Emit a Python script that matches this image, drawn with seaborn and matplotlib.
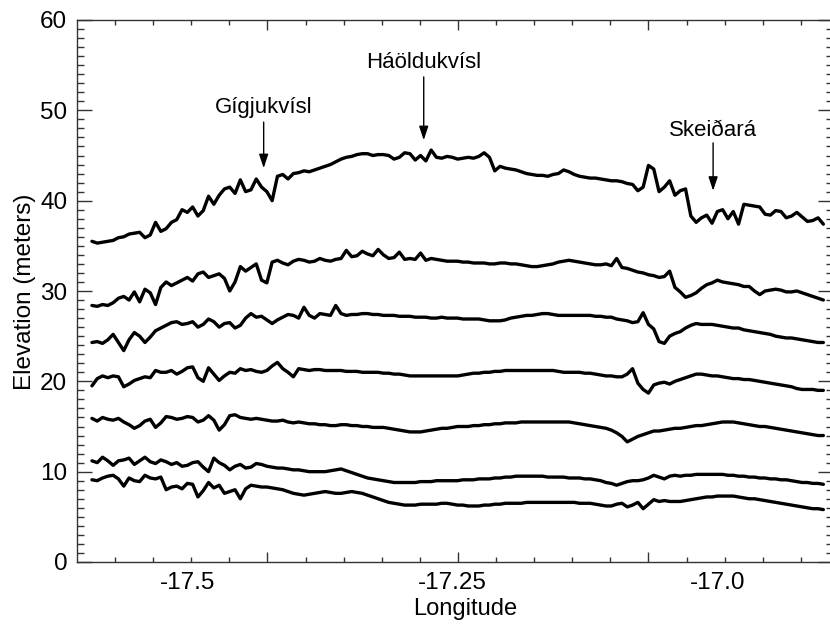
import matplotlib
matplotlib.use("Agg")
import matplotlib.pyplot as plt
from matplotlib.ticker import FixedLocator
import numpy as np
import seaborn as sns

# ── data: seven elevation profiles ───────────────────────────────────────────
LON = [-17.590, -17.585, -17.580, -17.575, -17.570, -17.565, -17.560, -17.555, -17.550, -17.545,
       -17.540, -17.535, -17.530, -17.525, -17.520, -17.515, -17.510, -17.505, -17.500, -17.495,
       -17.490, -17.485, -17.480, -17.475, -17.470, -17.465, -17.460, -17.455, -17.450, -17.445,
       -17.440, -17.435, -17.430, -17.425, -17.420, -17.415, -17.410, -17.405, -17.400, -17.395,
       -17.390, -17.385, -17.380, -17.375, -17.370, -17.365, -17.360, -17.355, -17.350, -17.345,
       -17.340, -17.335, -17.330, -17.325, -17.320, -17.315, -17.310, -17.305, -17.300, -17.295,
       -17.290, -17.285, -17.280, -17.275, -17.270, -17.265, -17.260, -17.255, -17.250, -17.245,
       -17.240, -17.235, -17.230, -17.225, -17.220, -17.215, -17.210, -17.205, -17.200, -17.195,
       -17.190, -17.185, -17.180, -17.175, -17.170, -17.165, -17.160, -17.155, -17.150, -17.145,
       -17.140, -17.135, -17.130, -17.125, -17.120, -17.115, -17.110, -17.105, -17.100, -17.095,
       -17.090, -17.085, -17.080, -17.075, -17.070, -17.065, -17.060, -17.055, -17.050, -17.045,
       -17.040, -17.035, -17.030, -17.025, -17.020, -17.015, -17.010, -17.005, -17.000, -16.995,
       -16.990, -16.985, -16.980, -16.975, -16.970, -16.965, -16.960, -16.955, -16.950, -16.945,
       -16.940, -16.935, -16.930, -16.925, -16.920, -16.915, -16.910, -16.905, -16.900]

PROFILE_1 = [35.5, 35.3, 35.4, 35.5, 35.6, 35.9, 36.0, 36.3, 36.4, 36.5,
             35.9, 36.2, 37.6, 36.6, 36.9, 37.6, 37.9, 39.0, 38.7, 39.3,
             38.3, 38.9, 40.5, 39.6, 40.6, 41.3, 41.5, 40.8, 42.3, 41.0,
             41.2, 42.4, 41.5, 41.0, 40.0, 42.7, 42.9, 42.4, 43.0, 43.1,
             43.3, 43.2, 43.4, 43.6, 43.8, 44.0, 44.3, 44.6, 44.8, 44.9,
             45.1, 45.2, 45.2, 45.0, 45.1, 45.1, 45.0, 44.6, 44.8, 45.3,
             45.2, 44.5, 45.0, 44.4, 45.6, 44.8, 44.7, 44.9, 44.8, 44.6,
             44.7, 44.8, 44.7, 44.9, 45.3, 44.8, 43.3, 43.8, 43.6, 43.5,
             43.4, 43.2, 43.0, 42.9, 42.8, 42.8, 42.7, 42.9, 43.0, 43.4,
             43.2, 42.9, 42.7, 42.6, 42.5, 42.5, 42.4, 42.3, 42.2, 42.2,
             42.1, 41.9, 41.8, 41.1, 41.5, 43.9, 43.5, 41.0, 41.5, 42.2,
             40.6, 41.1, 41.3, 38.3, 37.6, 38.1, 38.4, 37.5, 38.8, 39.0,
             38.0, 38.8, 37.4, 39.6, 39.5, 39.4, 39.3, 38.5, 38.4, 38.9,
             38.8, 38.1, 38.3, 38.7, 38.2, 37.7, 37.8, 38.1, 37.4]
PROFILE_2 = [28.4, 28.3, 28.5, 28.4, 28.7, 29.2, 29.4, 29.0, 29.9, 28.8,
             30.2, 29.8, 28.5, 30.4, 31.0, 30.6, 30.9, 31.2, 31.5, 31.1,
             31.9, 32.1, 31.5, 31.7, 31.9, 31.4, 30.0, 31.0, 32.7, 32.2,
             32.6, 33.0, 31.2, 30.9, 33.2, 33.4, 33.1, 32.9, 33.3, 33.5,
             33.4, 33.2, 33.3, 33.6, 33.4, 33.3, 33.5, 33.6, 34.5, 33.8,
             33.9, 34.4, 34.1, 33.9, 34.6, 34.0, 33.6, 33.7, 34.3, 33.5,
             33.6, 33.5, 34.2, 33.4, 33.6, 33.5, 33.4, 33.3, 33.3, 33.3,
             33.2, 33.2, 33.1, 33.1, 33.1, 33.0, 33.0, 33.1, 33.1, 33.0,
             33.0, 32.9, 32.8, 32.7, 32.7, 32.8, 32.9, 33.0, 33.2, 33.3,
             33.4, 33.3, 33.2, 33.1, 33.0, 32.9, 32.9, 33.0, 32.8, 33.6,
             32.6, 32.5, 32.3, 32.1, 32.0, 31.8, 31.7, 31.5, 31.6, 32.2,
             30.4, 29.9, 29.3, 29.5, 29.8, 30.3, 30.7, 30.9, 31.2, 31.0,
             30.9, 30.8, 30.7, 30.5, 30.5, 30.0, 29.6, 30.0, 30.1, 30.2,
             30.1, 29.9, 29.9, 30.0, 29.8, 29.6, 29.4, 29.2, 29.0]
PROFILE_3 = [24.3, 24.4, 24.2, 24.6, 25.2, 24.3, 23.4, 24.6, 25.4, 25.0,
             24.3, 24.9, 25.6, 25.9, 26.2, 26.5, 26.6, 26.3, 26.4, 26.6,
             26.0, 26.3, 26.9, 26.6, 26.0, 26.4, 26.5, 25.9, 26.2, 27.0,
             27.5, 27.1, 27.2, 26.8, 26.4, 26.8, 27.1, 27.4, 27.3, 27.0,
             28.2, 27.3, 27.0, 27.5, 27.4, 27.3, 28.4, 27.5, 27.3, 27.4,
             27.4, 27.5, 27.5, 27.4, 27.4, 27.3, 27.3, 27.3, 27.2, 27.2,
             27.2, 27.1, 27.1, 27.1, 27.0, 27.0, 27.1, 27.0, 27.0, 27.0,
             26.9, 26.9, 26.9, 26.9, 26.8, 26.7, 26.7, 26.7, 26.8, 27.0,
             27.1, 27.2, 27.3, 27.3, 27.4, 27.5, 27.5, 27.4, 27.3, 27.3,
             27.3, 27.3, 27.3, 27.3, 27.3, 27.2, 27.2, 27.1, 27.1, 26.9,
             26.8, 26.7, 26.5, 26.6, 27.6, 26.3, 25.8, 24.4, 24.2, 25.0,
             25.3, 25.5, 25.9, 26.2, 26.4, 26.3, 26.3, 26.3, 26.2, 26.1,
             26.0, 25.9, 25.9, 25.7, 25.6, 25.5, 25.4, 25.3, 25.2, 25.0,
             24.9, 24.8, 24.8, 24.7, 24.6, 24.5, 24.4, 24.3, 24.3]
PROFILE_4 = [19.5, 20.3, 20.6, 20.4, 20.6, 20.5, 19.4, 19.7, 20.1, 20.3,
             20.5, 20.4, 21.2, 21.0, 21.0, 21.2, 20.8, 21.1, 21.5, 21.6,
             20.4, 20.0, 21.5, 20.8, 20.1, 20.6, 21.0, 20.9, 21.4, 21.2,
             21.3, 21.1, 21.0, 21.2, 21.7, 22.1, 21.4, 21.0, 20.5, 21.4,
             21.3, 21.2, 21.3, 21.3, 21.2, 21.2, 21.2, 21.2, 21.1, 21.1,
             21.1, 21.0, 21.0, 21.0, 21.0, 20.9, 20.9, 20.8, 20.8, 20.7,
             20.6, 20.6, 20.6, 20.6, 20.6, 20.6, 20.6, 20.6, 20.6, 20.6,
             20.7, 20.8, 20.9, 20.9, 21.0, 21.0, 21.1, 21.1, 21.2, 21.2,
             21.2, 21.2, 21.2, 21.2, 21.2, 21.2, 21.2, 21.2, 21.1, 21.0,
             21.0, 21.0, 21.0, 20.9, 20.9, 20.8, 20.7, 20.6, 20.6, 20.5,
             20.5, 20.8, 21.4, 19.8, 19.1, 18.7, 19.6, 19.8, 19.9, 19.7,
             20.0, 20.2, 20.4, 20.6, 20.8, 20.8, 20.7, 20.6, 20.6, 20.5,
             20.4, 20.3, 20.3, 20.2, 20.2, 20.1, 20.0, 19.9, 19.8, 19.7,
             19.6, 19.5, 19.4, 19.2, 19.1, 19.1, 19.1, 19.0, 19.0]
PROFILE_5 = [15.9, 15.6, 16.0, 15.8, 15.7, 15.9, 15.5, 15.2, 14.8, 15.1,
             15.6, 15.8, 14.9, 15.4, 16.1, 16.0, 15.8, 15.9, 16.1, 16.0,
             15.5, 15.7, 16.2, 15.7, 14.6, 15.2, 16.2, 16.3, 16.0, 15.9,
             15.8, 15.9, 15.8, 15.7, 15.6, 15.6, 15.7, 15.5, 15.4, 15.5,
             15.4, 15.3, 15.3, 15.2, 15.2, 15.1, 15.1, 15.2, 15.2, 15.1,
             15.1, 15.0, 15.0, 14.9, 14.9, 14.9, 14.8, 14.7, 14.6, 14.5,
             14.4, 14.4, 14.4, 14.5, 14.6, 14.7, 14.8, 14.8, 14.9, 15.0,
             15.0, 15.0, 15.1, 15.1, 15.2, 15.2, 15.3, 15.3, 15.4, 15.4,
             15.4, 15.5, 15.5, 15.5, 15.5, 15.5, 15.5, 15.5, 15.5, 15.5,
             15.5, 15.4, 15.3, 15.2, 15.1, 15.0, 14.9, 14.8, 14.6, 14.3,
             13.9, 13.3, 13.6, 13.9, 14.1, 14.3, 14.5, 14.5, 14.6, 14.7,
             14.8, 14.8, 14.9, 15.0, 15.1, 15.1, 15.2, 15.3, 15.4, 15.5,
             15.5, 15.5, 15.4, 15.3, 15.2, 15.1, 15.0, 15.0, 14.9, 14.8,
             14.7, 14.6, 14.5, 14.4, 14.3, 14.2, 14.1, 14.0, 14.0]
PROFILE_6 = [11.2, 11.0, 11.6, 11.2, 10.7, 11.2, 11.3, 11.5, 10.8, 11.2,
             11.6, 11.1, 10.9, 11.3, 11.1, 10.8, 11.0, 10.6, 10.7, 11.0,
             11.1, 10.5, 10.0, 11.5, 11.0, 10.7, 10.2, 10.6, 10.8, 10.4,
             10.5, 10.9, 10.8, 10.6, 10.5, 10.4, 10.4, 10.3, 10.2, 10.2,
             10.1, 10.0, 10.0, 10.0, 10.0, 10.1, 10.2, 10.3, 10.1, 9.9,
             9.7, 9.5, 9.3, 9.2, 9.1, 9.0, 8.9, 8.8, 8.8, 8.8,
             8.8, 8.8, 8.9, 8.9, 8.9, 9.0, 9.0, 9.0, 9.0, 9.0,
             9.1, 9.1, 9.1, 9.2, 9.2, 9.2, 9.3, 9.3, 9.4, 9.4,
             9.5, 9.5, 9.5, 9.5, 9.5, 9.5, 9.4, 9.4, 9.4, 9.4,
             9.3, 9.3, 9.3, 9.2, 9.2, 9.1, 9.0, 8.8, 8.7, 8.5,
             8.7, 8.9, 9.0, 9.0, 9.1, 9.3, 9.6, 9.4, 9.2, 9.5,
             9.6, 9.5, 9.6, 9.6, 9.7, 9.7, 9.7, 9.7, 9.7, 9.7,
             9.6, 9.6, 9.5, 9.5, 9.4, 9.4, 9.3, 9.3, 9.2, 9.2,
             9.1, 9.1, 9.0, 8.9, 8.8, 8.8, 8.7, 8.7, 8.6]
PROFILE_7 = [9.1, 9.0, 9.3, 9.5, 9.6, 9.2, 8.4, 9.3, 9.0, 8.9,
             9.6, 9.3, 9.2, 9.4, 8.0, 8.3, 8.4, 8.1, 8.7, 8.6,
             7.2, 7.9, 8.8, 8.2, 8.5, 7.6, 7.8, 8.0, 7.0, 8.1,
             8.5, 8.4, 8.3, 8.3, 8.2, 8.1, 8.0, 7.8, 7.6, 7.5,
             7.4, 7.5, 7.6, 7.7, 7.8, 7.7, 7.6, 7.6, 7.7, 7.8,
             7.7, 7.6, 7.4, 7.2, 7.0, 6.8, 6.6, 6.5, 6.4, 6.3,
             6.3, 6.3, 6.4, 6.4, 6.4, 6.4, 6.5, 6.5, 6.4, 6.3,
             6.3, 6.2, 6.2, 6.2, 6.3, 6.3, 6.4, 6.4, 6.5, 6.5,
             6.5, 6.5, 6.6, 6.6, 6.6, 6.6, 6.6, 6.6, 6.6, 6.6,
             6.6, 6.6, 6.5, 6.5, 6.5, 6.4, 6.3, 6.2, 6.2, 6.4,
             6.5, 6.1, 6.3, 6.6, 5.9, 6.4, 6.9, 6.7, 6.8, 6.7,
             6.7, 6.7, 6.8, 6.9, 7.0, 7.1, 7.2, 7.2, 7.3, 7.3,
             7.3, 7.3, 7.2, 7.1, 7.0, 7.0, 6.9, 6.8, 6.7, 6.6,
             6.5, 6.4, 6.3, 6.2, 6.1, 6.0, 5.9, 5.9, 5.8]
PROFILES = [PROFILE_1, PROFILE_2, PROFILE_3, PROFILE_4,
            PROFILE_5, PROFILE_6, PROFILE_7]

# rivers: name, longitude, text baseline, arrow start, arrow tip (m)
RIVERS = ["Gígjukvísl", "Háöldukvísl", "Skeiðará"]
RIVER_LON = [-17.428, -17.277, -17.004]
RIVER_TEXT_Y = [49.7, 54.7, 47.2]
RIVER_ARROW_FROM = [48.7, 53.7, 46.4]
RIVER_ARROW_TO = [43.6, 46.7, 41.1]

XTICK_VALUES = [-17.5, -17.25, -17.0]
XTICK_LABELS = ["-17.5", "-17.25", "-17.0"]

sns.set_theme(style="ticks")
plt.rcParams.update({
    "font.family": ["Liberation Sans", "DejaVu Sans"],
    "axes.unicode_minus": False,
    "text.color": "black",
    "axes.labelcolor": "black",
    "axes.edgecolor": "#333333",
    "axes.linewidth": 1.0,
    "xtick.color": "#333333",
    "ytick.color": "#333333",
    "xtick.labelcolor": "black",
    "ytick.labelcolor": "black",
})

fig = plt.figure(figsize=(8.3, 6.25), dpi=100)
# right spine sits just past the image edge, as in the original
ax = fig.add_axes([77 / 830, 63 / 625, 756 / 830, 542 / 625])

for prof in PROFILES:
    sns.lineplot(x=LON, y=prof, ax=ax, color="black", lw=2.4,
                 estimator=None, sort=False)

ax.set_xlim(-17.6041, -16.8909)
ax.set_ylim(0, 60)

# tick marks (the labels sit on a separate secondary axis, as in the original)
tick_pos = -17.5682 + 0.035943 * np.arange(19)
ax.xaxis.set_major_locator(FixedLocator(tick_pos[[4, 9, 14]]))
ax.xaxis.set_minor_locator(FixedLocator(tick_pos))
ax.yaxis.set_major_locator(FixedLocator(np.arange(0, 61, 10)))
ax.yaxis.set_minor_locator(FixedLocator(np.arange(0, 61, 1)))
ax.tick_params(which="both", direction="in", top=True, right=True, width=1.0)
ax.tick_params(axis="x", which="major", length=7.2, labelbottom=False)
ax.tick_params(axis="x", which="minor", length=3.6)
ax.tick_params(axis="y", which="major", length=10.8, pad=7, labelsize=17.5)
ax.tick_params(axis="y", which="minor", length=5)

sec = ax.secondary_xaxis("bottom")
sec.set_xticks(XTICK_VALUES, labels=XTICK_LABELS)
sec.tick_params(length=0, pad=7.5, labelsize=17.5)
sec.spines["bottom"].set_visible(False)

ax.set_xlabel("Longitude", fontsize=17)
ax.xaxis.set_label_coords(0.513, -0.067)
ax.set_ylabel("Elevation (meters)", fontsize=17.5)
ax.yaxis.set_label_coords(-0.054, 0.499)

for name, lon, ty, y0, y1 in zip(RIVERS, RIVER_LON, RIVER_TEXT_Y,
                                 RIVER_ARROW_FROM, RIVER_ARROW_TO):
    ax.text(lon, ty, name, ha="center", va="baseline", fontsize=16)
    ax.annotate("", xy=(lon, y1), xytext=(lon, y0),
                arrowprops=dict(arrowstyle="-|>,head_length=0.6,head_width=0.2",
                                color="black", lw=1.0, mutation_scale=14,
                                shrinkA=0, shrinkB=0))

fig.savefig("out.png", dpi=100)
